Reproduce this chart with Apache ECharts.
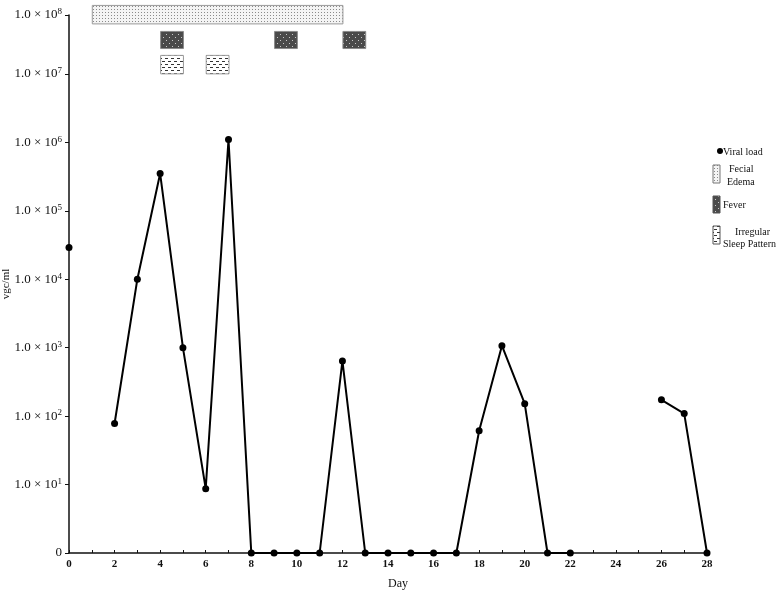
<!DOCTYPE html>
<html>
<head>
<meta charset="utf-8">
<script src="https://cdn.jsdelivr.net/npm/echarts@6/dist/echarts.min.js"></script>
<style>
  html, body { margin: 0; padding: 0; background: #fff; }
  #chart { width: 784px; height: 591px; }
</style>
</head>
<body>
<div id="chart"></div>
<script>
// viral load per day (vgc/ml), null = not measured
const days = [0, 1, 2, 3, 4, 5, 6, 7, 8, 9, 10, 11, 12, 13, 14, 15, 16, 17, 18, 19, 20, 21, 22, 23, 24, 25, 26, 27, 28]
const viralLoad = [29000, null, 78, 10000, 350000, 1000, 8.7, 1100000, 0, 0, 0, 0, 640, 0, 0, 0, 0, 0, 61, 1070, 152, 0, 0, null, null, null, 173, 109, 0]

// symptom periods: [start day, end day]
const facialEdema = [[1, 12]]
const fever = [[4, 5], [9, 10], [12, 13]]
const sleepPattern = [[4, 5], [6, 7]]

const yTickExp = [0, 1, 2, 3, 4, 5, 6, 7]
const yTopExp = 8
const yMax = 7.86 // top tick sits a bit lower than a full decade

const serif = '"Liberation Serif", "DejaVu Serif", serif'

const toPlot = v => (v === null ? null : v <= 0 ? 0 : Math.log10(v))

const makePattern = (bg, draw) => {
  const c = document.createElement('canvas')
  c.width = 6
  c.height = 6
  const ctx = c.getContext('2d')
  ctx.fillStyle = bg
  ctx.fillRect(0, 0, 6, 6)
  draw(ctx)
  return { image: c, repeat: 'repeat' }
}

const dotsPattern = makePattern('#f4f4f4', ctx => {
  ctx.fillStyle = '#8a8a8a'
  ctx.fillRect(0, 0, 1, 1)
  ctx.fillRect(3, 3, 1, 1)
  ctx.fillRect(3, 0, 1, 1)
  ctx.fillRect(0, 3, 1, 1)
})
const feverPattern = makePattern('#4a4a4a', ctx => {
  ctx.fillStyle = '#c8c8c8'
  ctx.fillRect(1, 1, 1, 1)
  ctx.fillRect(4, 4, 1, 1)
})
const sleepPatternFill = makePattern('#ffffff', ctx => {
  ctx.fillStyle = '#333'
  ctx.fillRect(0, 1, 3, 1)
  ctx.fillRect(3, 4, 3, 1)
})

// row bands in y-axis units
const rows = [
  { data: facialEdema, top: 8.0, bottom: 7.73, fill: dotsPattern, stroke: '#9a9a9a' },
  { data: fever, top: 7.62, bottom: 7.37, fill: feverPattern, stroke: '#8a8a8a' },
  { data: sleepPattern, top: 7.27, bottom: 7.0, fill: sleepPatternFill, stroke: '#9a9a9a' }
]

const chart = echarts.init(document.getElementById('chart'))

const symptomSeries = rows.map(row => ({
  type: 'custom',
  clip: false,
  silent: true,
  data: row.data,
  renderItem: (params, api) => {
    const p1 = api.coord([api.value(0), row.top])
    const p2 = api.coord([api.value(1), row.bottom])
    return {
      type: 'rect',
      shape: { x: p1[0] + 0.5, y: p1[1], width: p2[0] - p1[0], height: p2[1] - p1[1] },
      style: { fill: row.fill, stroke: row.stroke, lineWidth: 1 }
    }
  }
}))

const legendIcon = (y, h, fill, stroke) => ({
  type: 'rect',
  shape: { x: 713, y: y, width: 7, height: h },
  style: { fill: fill, stroke: stroke, lineWidth: 1 }
})
const legendText = (x, y, text) => ({
  type: 'text',
  style: { x: x, y: y, text: text, font: '10px ' + serif, fill: '#111', verticalAlign: 'middle' }
})

const option = {
  animation: false,
  grid: { left: 69, right: 77, top: 15, bottom: 38, outerBoundsMode: 'none', containLabel: false },
  xAxis: {
    type: 'value',
    min: 0,
    max: 28,
    interval: 1,
    name: 'Day',
    nameLocation: 'middle',
    nameGap: 25,
    nameMoveOverlap: false,
    nameTextStyle: { fontFamily: serif, fontSize: 12, color: '#111', padding: [0, 0, 0, 20] },
    axisLine: { lineStyle: { color: '#111', width: 1.5 } },
    axisTick: { inside: true, length: 3, lineStyle: { color: '#111' } },
    axisLabel: {
      interval: 0,
      formatter: v => (v % 2 === 0 ? String(v) : ''),
      fontFamily: serif,
      fontSize: 11,
      fontWeight: 'bold',
      color: '#111',
      margin: 6
    },
    splitLine: { show: false }
  },
  yAxis: {
    type: 'value',
    min: 0,
    max: yMax,
    interval: 1,
    name: 'vgc/ml',
    nameLocation: 'middle',
    nameGap: 57,
    nameMoveOverlap: false,
    nameTextStyle: { fontFamily: serif, fontSize: 11, color: '#111' },
    axisLine: { show: true, lineStyle: { color: '#111', width: 1.5 } },
    axisTick: { show: true, length: 4, lineStyle: { color: '#111' } },
    axisLabel: {
      showMaxLabel: true,
      fontFamily: serif,
      fontSize: 13,
      color: '#111',
      margin: 7,
      formatter: v => {
        if (v === 0) return '0'
        const exp = v > yTickExp[yTickExp.length - 1] ? yTopExp : Math.round(v)
        return '1.0 × 10{s|' + exp + '}'
      },
      rich: {
        s: { fontFamily: serif, fontSize: 9, verticalAlign: 'top', padding: [0, 0, 6, 0], color: '#111' }
      }
    },
    splitLine: { show: false }
  },
  series: [
    ...symptomSeries,
    {
      type: 'line',
      name: 'Viral load',
      data: days.map((d, i) => [d, toPlot(viralLoad[i])]),
      connectNulls: false,
      clip: false,
      symbol: 'circle',
      symbolSize: 7,
      showSymbol: true,
      itemStyle: { color: '#000' },
      lineStyle: { color: '#000', width: 2 },
      z: 5
    }
  ],
  graphic: [
    { type: 'circle', shape: { cx: 720, cy: 151, r: 3 }, style: { fill: '#000' } },
    legendText(723, 152, 'Viral load'),
    legendIcon(165, 18, dotsPattern, '#777'),
    legendText(729, 169, 'Fecial'),
    legendText(727, 182, 'Edema'),
    legendIcon(196, 17, feverPattern, '#555'),
    legendText(723, 205, 'Fever'),
    legendIcon(226, 18, sleepPatternFill, '#555'),
    legendText(735, 232, 'Irregular'),
    legendText(723, 244, 'Sleep Pattern')
  ]
}

chart.setOption(option)
window.addEventListener('resize', () => chart.resize())
</script>
</body>
</html>
